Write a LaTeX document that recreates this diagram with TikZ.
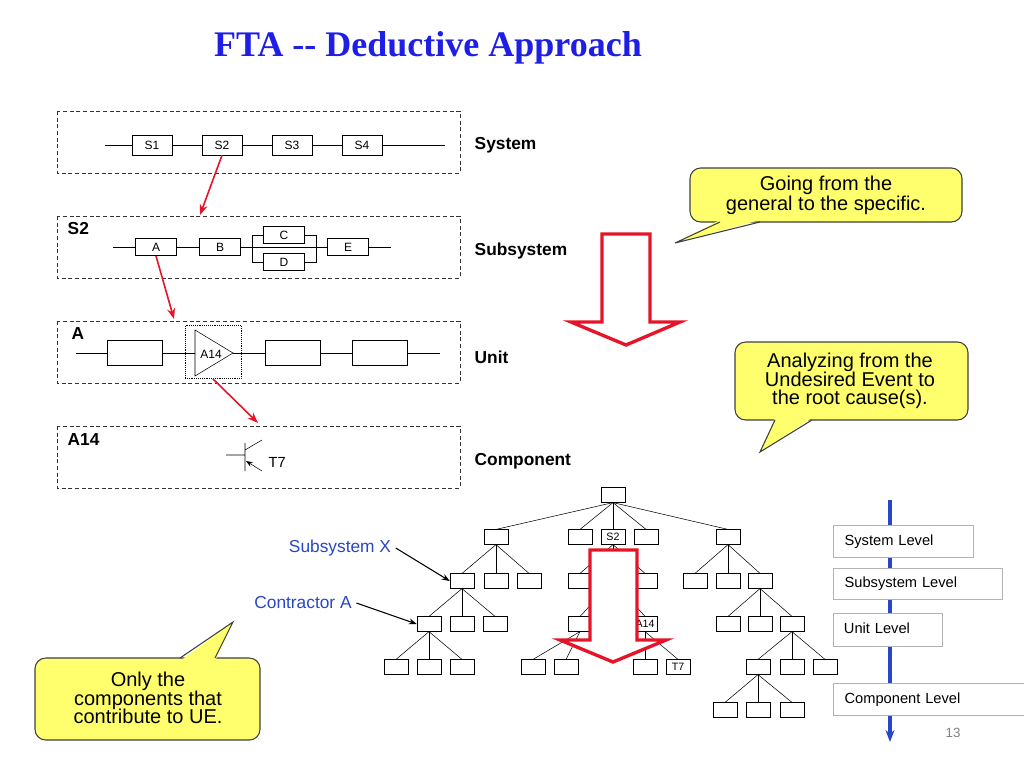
\documentclass[tikz,border=0pt]{standalone}
\usepackage{fontspec}
\setmainfont{Liberation Sans}
\newfontfamily\titlefont{Liberation Serif}
\usetikzlibrary{arrows.meta,calc}
\definecolor{ttlblue}{RGB}{30,30,230}
\definecolor{lblblue}{RGB}{40,70,200}
\definecolor{callout}{RGB}{255,255,110}
\definecolor{fred}{RGB}{230,20,40}
\begin{document}
\begin{tikzpicture}[x=0.75pt,y=-0.75pt,
        panel/.style={draw, densely dashed, gray!40!black},
        blk/.style={draw, thin, fill=white, inner sep=0pt, font=\fontsize{9}{9}\selectfont},
        tbox/.style={draw, fill=white, minimum width=18pt, minimum height=11pt, inner sep=0pt, font=\fontsize{8}{8}\selectfont},
        lvl/.style={draw=gray!60, fill=white, anchor=north west, inner sep=0pt, font=\fontsize{11}{11}\selectfont, text height=8pt, text depth=2pt, align=left},
        side/.style={font=\bfseries\fontsize{13}{13}\selectfont, anchor=west},
        redarrow/.style={fred, very thick, -{Stealth[length=8pt]}},
        bubble/.style={draw=gray!50!black, fill=callout, thick, rounded corners=8pt},
        bubtext/.style={font=\fontsize{15}{15}\selectfont, align=center},
        bigarrow/.style={draw=fred, line width=2.5pt, fill=white, line join=miter},
    ]
	\useasboundingbox (0,0) rectangle (1024,768);
	% title
	\node[ttlblue, font=\titlefont\bfseries\fontsize{27}{27}\selectfont] (title) at (428,48) {FTA -- Deductive Approach};
	% panels
	\draw[panel] (57,111) rectangle (460,173);
	\draw[panel] (57,216) rectangle (460,278);
	\draw[panel] (57,321) rectangle (460,383);
	\draw[panel] (57,426) rectangle (460,488);
	\node[side] (sys) at (470,145) {System};
	\node[side] (sub) at (470,251) {Subsystem};
	\node[side] (unit) at (470,357) {Unit};
	\node[side] (comp) at (470,461) {Component};
	\node[font=\bfseries\fontsize{13}{13}\selectfont, anchor=west] (pS2) at (63,229) {S2};
	\node[font=\bfseries\fontsize{13}{13}\selectfont, anchor=west] (pA) at (67,334) {A};
	\node[font=\bfseries\fontsize{13}{13}\selectfont, anchor=west] (pA14) at (63,440) {A14};
	% system
	\coordinate (s0) at (105,145);
	\coordinate (s5) at (445,145);
	\draw (s0) -- (s5);
	\foreach \n/\x in {S1/152,S2/222,S3/292,S4/362}
		\node[blk, minimum width=30pt, minimum height=15pt] (\n) at (\x,145) {\n};
	% subsystem
	\coordinate (b0) at (113,247);
	\coordinate (b5) at (391,247);
	\draw (b0) -- (b5);
	\draw (252,235) rectangle (316,262);
	\foreach \n/\x/\y in {A/156/247,B/220/247,C/284/235,D/284/262,E/348/247}
		\node[blk, minimum width=31pt, minimum height=13pt] (\n) at (\x,\y) {\n};
	% unit
	\coordinate (u0) at (76,353);
	\coordinate (u5) at (440,353);
	\draw (u0) -- (u5);
	\node[blk, minimum width=41pt, minimum height=19pt] (u1) at (135,353) {};
	\node[blk, minimum width=41pt, minimum height=19pt] (u3) at (293,353) {};
	\node[blk, minimum width=41pt, minimum height=19pt] (u4) at (380,353) {};
	\node[draw, densely dotted, minimum width=42pt, minimum height=40pt, fill=white] (A14box) at (213,352) {};
	\draw[fill=white] (195,330) -- (233,353) -- (195,376) -- cycle;
	\draw (185,353) -- (195,353) (233,353) -- (241,353);
	\node[font=\fontsize{9}{9}\selectfont] (A14) at (211,354) {A14};
	% component
	\draw (226,455) -- (245,455) (245,443) -- (245,471) (245,450) -- (262,440);
	\draw[-{Stealth[length=5pt]}] (262,471) -- (246,461);
	\node[font=\fontsize{11}{11}\selectfont, anchor=west] (T7c) at (264,462) {T7};
	% red arrows
	\draw[redarrow] (S2.south) -- (200,215);
	\draw[redarrow] (A.south) -- (174,319);
	\draw[redarrow] (A14box.south) -- (258,423);
	% big arrow top
	\draw[bigarrow] (602,234) -- (650,234) -- (650,322) -- (680,322) -- (626,345) -- (571,322) -- (602,322) -- cycle;
	% callouts
	\draw[bubble] (690,168) rectangle (962,222);
	\fill[callout] (720,220) -- (675,243) -- (760,220) -- cycle;
	\draw[gray!50!black, thick] (720,222) -- (675,243) -- (760,222);
	\node[bubtext] (c1) at (826,195) {Going from the\\general to the specific.};
	\draw[bubble] (735,342) rectangle (968,420);
	\fill[callout] (775,418) -- (760,452) -- (812,418) -- cycle;
	\draw[gray!50!black, thick] (775,420) -- (760,452) -- (812,420);
	\node[bubtext, font=\fontsize{15}{14}\selectfont] (c2) at (850,381) {Analyzing from the\\Undesired Event to\\the root cause(s).};
	\draw[bubble] (35,658) rectangle (260,740);
	\fill[callout] (180,661) -- (233,622) -- (215,661) -- cycle;
	\draw[gray!50!black, thick] (180,658) -- (233,622) -- (215,658);
	\node[bubtext, font=\fontsize{15}{14}\selectfont] (c3) at (148,698) {Only the\\components that\\contribute to UE.};
	% tree
	\foreach \n/\x/\y in {r/613/495,
		a1/496/537,a2/580/537,a4/646/537,a5/728/537,
		b1/462/581,b2/496/581,b3/529/581,b4/580/581,b6/645/581,b7/695/581,b8/728/581,b9/760/581,
		c1/429/624,c2/462/624,c3/495/624,c4/580/624,c7/728/624,c8/760/624,c9/792/624,
		d1/396/667,d2/429/667,d3/462/667,d4/533/667,d5/566/667,d6/645/667,d8/758/667,d9/792/667,d10/825/667,
		e1/725/710,e2/758/710,e3/792/710}
		\node[tbox] (\n) at (\x,\y) {};
	\node[tbox] (a3) at (613,537) {S2};
	\node[tbox] (c6) at (645,624) {A14};
	\node[tbox] (d7) at (678,667) {T7};
	\coordinate (b5) at (613,581);
	\coordinate (c5) at (613,624);
	\foreach \p/\c in {r/a1,r/a2,r/a3,r/a4,r/a5,a1/b1,a1/b2,a1/b3,a3/b4,a3/b5,a3/b6,a5/b7,a5/b8,a5/b9,
		b1/c1,b1/c2,b1/c3,b5/c4,b5/c5,b5/c6,b9/c7,b9/c8,b9/c9,c1/d1,c1/d2,c1/d3,c4/d4,c4/d5,c6/d6,c6/d7,
		c9/d8,c9/d9,c9/d10,d8/e1,d8/e2,d8/e3}
		\draw (\p.south) -- (\c.north);
	\draw[bigarrow] (590,550) -- (637,550) -- (637,640) -- (666,640) -- (613,662) -- (560,640) -- (590,640) -- cycle;
	% labels
	\node[lblblue, font=\fontsize{13}{13}\selectfont] (subX) at (340,548) {Subsystem X};
	\node[lblblue, font=\fontsize{13}{13}\selectfont] (conA) at (303,603) {Contractor A};
	\draw[-{Stealth[length=6pt]}, thick] (subX.east) -- (b1.west);
	\draw[-{Stealth[length=6pt]}, thick] (conA.east) -- (c1.west);
	% levels
	\coordinate (vtop) at (890,500);
	\coordinate (vbot) at (890,742);
	\draw[lblblue, line width=2.5pt, -{Stealth[length=9pt]}] (vtop) -- (vbot);
	\node[lvl, minimum width=105pt, minimum height=24pt, text width=100pt] (L1) at (833,525) {\hspace{6pt}System Level};
	\node[lvl, minimum width=127pt, minimum height=23pt, text width=122pt] (L2) at (833,568) {\hspace{6pt}Subsystem Level};
	\node[lvl, minimum width=82pt, minimum height=25pt, text width=78pt] (L3) at (833,613) {\hspace{6pt}Unit Level};
	\node[lvl, minimum width=143pt, minimum height=24pt, text width=138pt] (L4) at (833,683) {\hspace{6pt}Component Level};
	\node[gray, font=\fontsize{10}{10}\selectfont] (pg) at (953,733) {13};
\end{tikzpicture}
\end{document}
